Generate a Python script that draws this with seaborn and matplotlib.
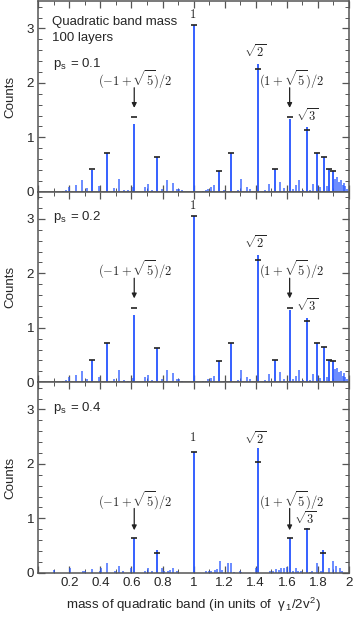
import numpy as np
import pandas as pd
import matplotlib
matplotlib.use("Agg")
import matplotlib.pyplot as plt
import seaborn as sns
from matplotlib.ticker import MultipleLocator

# Setup
sns.set_theme(style="ticks")
plt.rcParams['font.family'] = ['Liberation Sans', 'DejaVu Sans']
plt.rcParams['mathtext.fontset'] = 'cm'

# Main peaks (panels p_s = 0.1 and 0.2)
peak_x_ab = [0.344, 0.445, 0.618, 0.762, 1.0, 1.166, 1.241, 1.414, 1.526, 1.618, 1.732, 1.796, 1.839, 1.873, 1.895]
bar_01 = [0.40, 0.72, 1.25, 0.63, 3.06, 0.38, 0.72, 2.34, 0.41, 1.34, 1.18, 0.72, 0.63, 0.41, 0.38]
cap_01 = [0.41, 0.72, 1.38, 0.63, 3.06, 0.38, 0.72, 2.25, 0.41, 1.38, 1.14, 0.72, 0.63, 0.41, 0.38]
bar_02 = [0.40, 0.72, 1.24, 0.63, 3.05, 0.39, 0.72, 2.34, 0.41, 1.33, 1.18, 0.72, 0.65, 0.41, 0.39]
cap_02 = [0.41, 0.72, 1.37, 0.63, 3.05, 0.39, 0.72, 2.24, 0.41, 1.37, 1.13, 0.72, 0.65, 0.41, 0.39]

# Small peaks (p_s = 0.1 and 0.2)
small_x_ab = [0.162, 0.177, 0.200, 0.243, 0.284, 0.316, 0.393, 0.488, 0.518, 0.554, 0.575, 0.612,
              0.687, 0.708, 0.730, 0.795, 0.827, 0.866, 0.891, 0.906, 0.923,
              1.063, 1.080, 1.095, 1.112, 1.133, 1.198, 1.284, 1.305, 1.342, 1.360, 1.459, 1.487,
              1.556, 1.584, 1.642, 1.659, 1.676, 1.702, 1.747, 1.766, 1.813, 1.856,
              1.910, 1.921, 1.936, 1.947, 1.960, 1.968, 1.976, 1.990]
small_h_ab = [0.02, 0.04, 0.09, 0.13, 0.21, 0.06, 0.10, 0.06, 0.23, 0.04, 0.03, 0.08,
              0.09, 0.14, 0.04, 0.05, 0.22, 0.16, 0.05, 0.05, 0.03,
              0.02, 0.03, 0.05, 0.08, 0.12, 0.03, 0.04, 0.23, 0.09, 0.05, 0.04, 0.15,
              0.18, 0.06, 0.05, 0.12, 0.22, 0.04, 0.04, 0.15, 0.08, 0.10,
              0.24, 0.27, 0.18, 0.21, 0.12, 0.16, 0.10, 0.05]

# Panel p_s = 0.4
peak_x_c = [0.618, 0.762, 1.0, 1.414, 1.618, 1.732, 1.835]
bar_04 = [0.63, 0.41, 2.22, 2.30, 0.63, 0.83, 0.41]
cap_04 = [0.63, 0.37, 2.22, 2.03, 0.63, 0.81, 0.37]
small_x_c = [0.102, 0.202, 0.288, 0.299, 0.346, 0.396, 0.402, 0.445, 0.496, 0.518, 0.546, 0.600,
             0.689, 0.706, 0.734, 0.797, 0.810, 0.835, 0.850, 0.867, 0.895,
             1.082, 1.097, 1.114, 1.136, 1.153, 1.168, 1.183, 1.221, 1.239, 1.260, 1.297, 1.307,
             1.400, 1.494, 1.511, 1.528, 1.548, 1.564, 1.581, 1.598, 1.640, 1.657, 1.672, 1.693,
             1.747, 1.764, 1.794, 1.818, 1.871, 1.894, 1.918, 1.940, 1.955]
small_h_c = [0.05, 0.08, 0.03, 0.04, 0.07, 0.04, 0.08, 0.18, 0.04, 0.12, 0.03, 0.08,
             0.04, 0.08, 0.03, 0.09, 0.04, 0.04, 0.05, 0.08, 0.03,
             0.03, 0.03, 0.03, 0.05, 0.07, 0.21, 0.05, 0.17, 0.18, 0.02, 0.03, 0.02,
             0.08, 0.03, 0.04, 0.07, 0.05, 0.08, 0.08, 0.10, 0.04, 0.08, 0.03, 0.03,
             0.02, 0.03, 0.18, 0.03, 0.09, 0.22, 0.12, 0.08, 0.04]

panels = [
    ("0.1", peak_x_ab, bar_01, cap_01, small_x_ab, small_h_ab),
    ("0.2", peak_x_ab, bar_02, cap_02, small_x_ab, small_h_ab),
    ("0.4", peak_x_c, bar_04, cap_04, small_x_c, small_h_c),
]

# label heights (count units) per panel
label_y = [
    dict(one=3.26, r2=2.57, gold=2.06, arrow=(1.91, 1.54), r3=(1.728, 1.40)),
    dict(one=3.25, r2=2.56, gold=2.06, arrow=(1.91, 1.54), r3=(1.728, 1.40)),
    dict(one=2.49, r2=2.46, gold=1.33, arrow=(1.18, 0.78), r3=(1.715, 0.99)),
]

W, H = 353, 617
fig = plt.figure(figsize=(W / 100, H / 100), dpi=100)
left = 38.2 / W
width = (349 - 38.2) / W
ph = 190.5 / H
bottom0 = (H - 572.7) / H

blue = '#2a58ff'
grey = '#555555'
fs = 9.3
mfs = 9.0

for i, (ps, px, pb, pc, sx, sh) in enumerate(panels):
    ax = fig.add_axes([left, bottom0 + (2 - i) * ph, width, ph])
    ax.vlines(sx, 0, sh, color=blue, lw=1.3, alpha=0.75)
    ax.vlines(px, 0, pb, color=blue, lw=1.4, alpha=0.95)
    caps = pd.DataFrame({"x": px, "cap": pc})
    sns.scatterplot(data=caps, x="x", y="cap", marker="_", s=20, color='#222222',
                    linewidth=1.2, ax=ax, zorder=4)

    ax.set_xlim(0, 2)
    ax.set_ylim(0, 3.5)
    ax.xaxis.set_major_locator(MultipleLocator(0.2))
    ax.xaxis.set_minor_locator(MultipleLocator(0.1))
    ax.yaxis.set_major_locator(MultipleLocator(1))
    ax.yaxis.set_minor_locator(MultipleLocator(0.2))
    ax.tick_params(which='both', direction='in', top=True, right=True, color=grey,
                   labelsize=fs + 0.3, pad=3)
    ax.tick_params(which='major', length=5, width=0.9)
    ax.tick_params(which='minor', length=3, width=0.7)
    for sp in ax.spines.values():
        sp.set_color(grey)
        sp.set_linewidth(1.1)
    ax.set_yticks([0, 1, 2, 3])
    ax.set_yticklabels(['0', '1', '2', '3'])
    ax.set_ylabel("Counts", fontsize=fs + 0.3, labelpad=7)
    if i < 2:
        ax.set_xticklabels([])
        ax.set_xlabel("")
    else:
        xt = np.round(np.arange(0, 2.01, 0.2), 1)
        ax.set_xticks(xt)
        ax.set_xticklabels(['' if v == 0 else ('%g' % v) for v in xt])
        ax.set_xlabel(r"mass of quadratic band (in units of  γ$_\mathregular{1}$/2v$^\mathregular{2}$)",
                      fontsize=fs + 0.3, labelpad=5)

    # text labels
    if i == 0:
        ax.text(0.087, 3.12, "Quadratic band mass", fontsize=fs + 0.2, va='center')
        ax.text(0.087, 2.82, "100 layers", fontsize=fs + 0.2, va='center')
        ax.text(0.095, 2.35, r"p$_\mathregular{s}$ = " + ps, fontsize=fs + 0.2, va='center')
    else:
        ax.text(0.095, 3.03, r"p$_\mathregular{s}$ = " + ps, fontsize=fs + 0.2, va='center')

    ly = label_y[i]
    ax.text(0.994, ly['one'], r"$1$", fontsize=mfs, ha='center', va='center')
    ax.text(1.395, ly['r2'], r"$\sqrt{2}$", fontsize=mfs, ha='center', va='center')
    ax.text(0.626, ly['gold'], r"$(-1+\sqrt{5})/2$", fontsize=mfs, ha='center', va='center')
    ax.text(1.631, ly['gold'], r"$(1+\sqrt{5})/2$", fontsize=mfs, ha='center', va='center')
    ax.text(ly['r3'][0], ly['r3'][1], r"$\sqrt{3}$", fontsize=mfs, ha='center', va='center')
    for gx in [0.618, 1.618]:
        ax.annotate("", xy=(gx, ly['arrow'][1]), xytext=(gx, ly['arrow'][0]),
                    arrowprops=dict(arrowstyle='-|>', color='#222222', lw=0.9,
                                    mutation_scale=7, shrinkA=0, shrinkB=0))

fig.savefig("out.png", dpi=100)
